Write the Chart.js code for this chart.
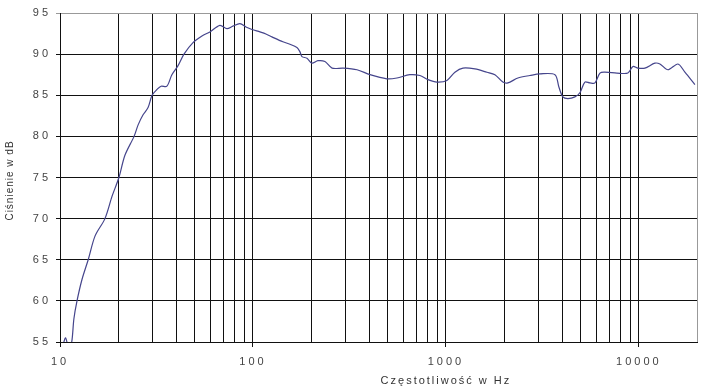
<!DOCTYPE html>
<html>
<head>
<meta charset="utf-8">
<script src="https://cdn.jsdelivr.net/npm/chart.js@4"></script>
<style>
html, body { margin: 0; padding: 0; background: #fff; }
canvas { display: block; }
</style>
</head>
<body>
<canvas id="responseChart" width="705" height="391"></canvas>
<script>
// frequency response
const freqs = [10.4, 10.7, 11.1, 11.5, 11.8, 12.25, 13.0, 14.0, 15.2, 17.1, 18.6, 20.2, 21.7, 24.2, 25.4, 26.9,
  28.6, 30.0, 31.8, 33.4, 35.8, 38.0, 40.9, 43.9, 48.9, 54.4, 59.8, 67.4, 73.3, 78.7, 85.6, 92.0, 98.8,
  108.7, 116.7, 125.4, 142.9, 155.5, 169, 175, 179.5, 190.5, 202, 217, 236, 257, 293, 346, 404, 494, 557,
  650, 733, 807, 898, 1012, 1113, 1225, 1413, 1631, 1794, 1972, 2094, 2360, 2723, 3069, 3672, 3849, 4036,
  4285, 4660, 4946, 5248, 5572, 5916, 6281, 6668, 7691, 8770, 9311, 9885, 10740, 12100, 12850, 14140,
  15930, 17310, 19500];
const levels = [54.8, 55.5, 54.2, 55.0, 57.8, 60.0, 62.6, 65.0, 67.9, 70.0, 72.7, 75.0, 77.7, 80.0, 81.4, 82.6,
  83.5, 85.0, 85.7, 86.1, 86.1, 87.5, 88.6, 90.0, 91.4, 92.2, 92.7, 93.5, 93.1, 93.4, 93.7, 93.3, 93.0,
  92.7, 92.45, 92.1, 91.5, 91.2, 90.8, 90.3, 89.7, 89.5, 88.9, 89.2, 89.1, 88.3, 88.3, 88.1, 87.5, 87.0, 87.1,
  87.5, 87.4, 86.9, 86.6, 86.8, 87.8, 88.3, 88.2, 87.8, 87.5, 86.6, 86.5, 87.1, 87.4, 87.6, 87.5, 86.0, 84.8,
  84.6, 84.8, 85.3, 86.6, 86.5, 86.5, 87.7, 87.8, 87.7, 87.7, 88.5, 88.3, 88.3, 88.9, 88.8, 88.1,
  88.8, 87.8, 86.3];

// axis ticks
const xGridFreqs = [10, 20, 30, 40, 50, 60, 70, 80, 90, 100, 200, 300, 400, 500, 600, 700, 800, 900,
  1000, 2000, 3000, 4000, 5000, 6000, 7000, 8000, 9000, 10000, 20000];
const xLabelFreqs = [10, 100, 1000, 10000];
const yTicks = [55, 60, 65, 70, 75, 80, 85, 90, 95];

const xTitle = 'Częstotliwość w Hz';
const yTitle = 'Ciśnienie w dB';

const FONT = '"Liberation Sans", Arial, sans-serif';

// wide text like the original
const spacing = {
    id: 'spacing',
    beforeDraw(chart) { chart.ctx.letterSpacing = '3px'; },
    afterDraw(chart) { chart.ctx.letterSpacing = '0px'; },
};

// axis titles (x title sits under the 1000 label in the original)
const axisTitles = {
    id: 'axisTitles',
    afterDraw(chart) {
        const c = chart.ctx;
        const xs = chart.scales.x;
        const area = chart.chartArea;
        c.save();
        c.fillStyle = '#333';
        c.textAlign = 'center';
        c.textBaseline = 'middle';
        c.font = '11px ' + FONT;
        c.letterSpacing = '2px';
        c.fillText(xTitle, xs.getPixelForValue(1000), xs.bottom - 10);
        c.translate(10, (area.top + area.bottom) / 2 + 3);
        c.rotate(-Math.PI / 2);
        c.font = '10px ' + FONT;
        c.letterSpacing = '1px';
        c.fillText(yTitle, 0, 0);
        c.restore();
    },
};

const ctx = document.getElementById('responseChart').getContext('2d');
new Chart(ctx, {
    type: 'line',
    data: {
        datasets: [{
            data: freqs.map((f, i) => ({ x: f, y: levels[i] })),
            borderColor: '#45458c',
            borderWidth: 1.2,
            pointRadius: 0,
            tension: 0.3,
            fill: false,
        }],
    },
    options: {
        responsive: false,
        animation: false,
        layout: { padding: { top: 13, right: 8, left: 0, bottom: 0 } },
        plugins: { legend: { display: false }, tooltip: { enabled: false } },
        scales: {
            x: {
                type: 'logarithmic',
                min: 10,
                max: 20000,
                afterBuildTicks: s => { s.ticks = xGridFreqs.map(v => ({ value: v })); },
                afterFit: s => { s.height = 49; },
                ticks: {
                    autoSkip: false,
                    maxRotation: 0,
                    padding: 8,
                    color: '#444',
                    font: { family: FONT, size: 11 },
                    callback: v => xLabelFreqs.includes(v) ? String(v) : '',
                },
                grid: {
                    color: c => c.tick && c.tick.value === 20000 ? '#999' : '#111',
                    tickColor: c => c.tick && xLabelFreqs.includes(c.tick.value) ? '#111' : 'rgba(0,0,0,0)',
                    tickLength: 5,
                    lineWidth: 1,
                },
                border: { color: '#111', width: 1 },
            },
            y: {
                min: 55,
                max: 95,
                afterBuildTicks: s => { s.ticks = yTicks.map(v => ({ value: v })); },
                afterFit: s => { s.width = 60; },
                ticks: {
                    padding: 5,
                    color: '#444',
                    font: { family: FONT, size: 11 },
                },
                grid: {
                    color: c => c.tick && c.tick.value === 95 ? '#999' : '#111',
                    tickLength: 4,
                    lineWidth: 1,
                },
                border: { color: '#111', width: 1 },
            },
        },
    },
    plugins: [spacing, axisTitles],
});
</script>
</body>
</html>
